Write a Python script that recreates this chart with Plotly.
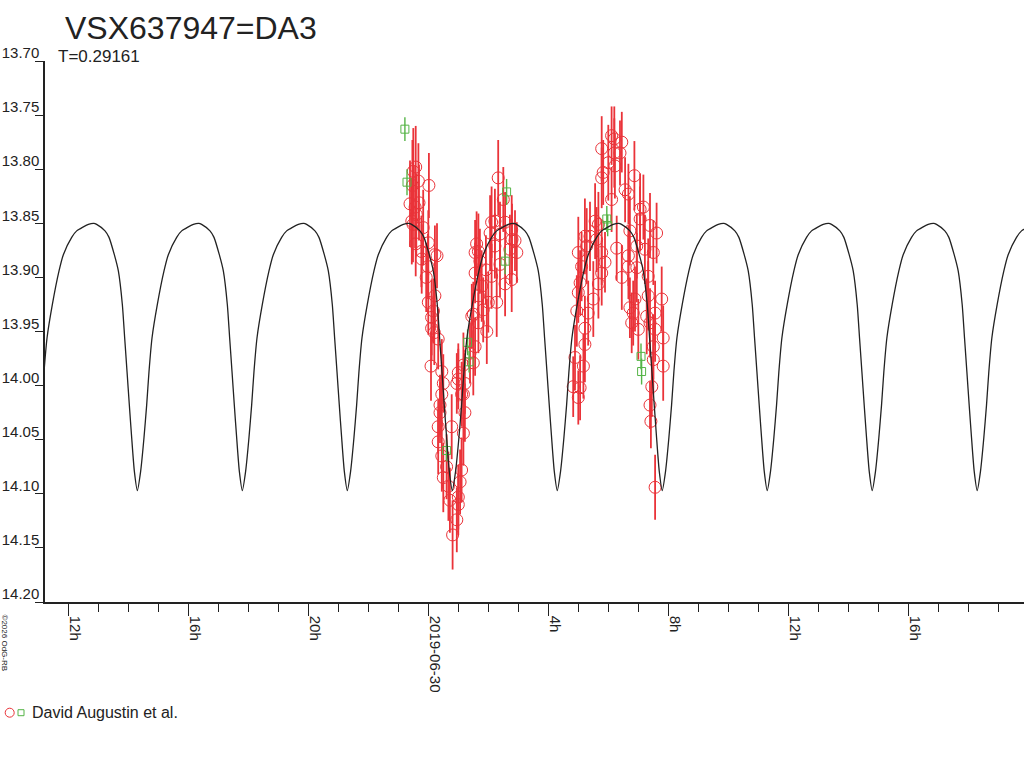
import plotly.graph_objects as go

# light curve of VSX637947=DA3, time in hours from 2019-06-30 00:00
period_days = 0.29161
first_min_h = -2.69          # a minimum of the model curve
tick_hours = [-12, -8, -4, 0, 4, 8, 12, 16]
tick_text = ["12h", "16h", "20h", "2019-06-30", "4h", "8h", "12h", "16h"]

# model profile around one minimum (hours from minimum, magnitude)
prof_dt = [-1.45, -1.356, -1.078, -0.944, -0.767, -0.633, -0.5, -0.422, -0.344, -0.267, -0.189, -0.1, 0.0,
           0.111, 0.222, 0.311, 0.389, 0.489, 0.667, 0.889, 1.033, 1.311, 1.478, 1.867]
prof_mag = [13.850, 13.851, 13.857, 13.863, 13.879, 13.894, 13.925, 13.956, 13.987, 14.018, 14.048, 14.079, 14.097,
            14.079, 14.048, 14.018, 13.987, 13.956, 13.925, 13.894, 13.879, 13.863, 13.857, 13.851]

# observations (red circles)
red_t = [-0.49, -0.41, -0.52, -0.32, 0.03, -0.60, -0.43, -0.30, -0.54, -0.16,
         -0.41, 0.01, 0.23, 0.30, -0.21, 1.57, 1.57, 0.23, 0.01, 0.12,
         0.12, 0.34, 0.10, 0.46, 0.51, 0.46, 0.40, 0.34, 0.79, 0.96,
         1.12, 1.23, 1.18, 0.34, 0.46, 1.12, 0.51, 0.73, 1.01, 0.96,
         0.82, 1.46, 1.40, 1.18, 1.01,
         2.34, 2.51, 2.12, 2.23, 2.57, 2.07, 2.40, 2.79, 2.90, 1.62,
         1.68, 2.23, 2.96, 2.73, 2.12, 2.79, 1.79, 1.68, 2.01, 2.29,
         1.84, 1.51, 1.68, 1.96, 1.57, 1.51, 1.01, 1.18,
         6.12, 6.21, 6.46, 5.79, 6.21, 6.40, 6.01, 5.84, 5.79, 6.23,
         6.88, 6.57, 6.68, 6.12, 7.18, 7.07, 5.57, 5.68, 5.40, 5.23,
         7.40, 7.62, 7.07, 6.73, 5.29, 5.01, 5.79, 6.29, 6.68, 6.96,
         7.23, 7.51, 5.90, 6.68, 6.96, 6.46, 7.34, 5.07, 5.68, 5.01,
         5.51, 6.90, 7.34, 7.79, 6.73, 4.96, 6.84, 7.29, 7.57, 5.23,
         7.01, 7.40, 7.84, 5.23, 7.51, 4.90, 7.84, 4.84, 5.07, 5.01,
         7.40, 7.43, 7.57,
         -0.39, -0.50, -0.22, 0.00, -0.06, 0.18, 0.21, 0.40, 0.62, 0.68,
         1.07, 1.01, 1.23, 1.73, 1.93, 2.40, 2.57, 2.80, 5.62, 5.12,
         5.79, 5.34, 6.79, 7.57, 7.51, 5.18, 7.46]
red_mag = [13.802, 13.798, 13.815, 13.811, 13.815, 13.832, 13.835, 13.831, 13.848, 13.854,
           13.869, 13.868, 13.879, 13.880, 13.883, 13.877, 13.896, 13.917, 13.923, 13.937,
           13.947, 13.957, 13.982, 13.987, 13.998, 14.008, 14.018, 14.038, 14.038, 13.998,
           14.008, 14.025, 14.044, 14.052, 14.065, 14.078, 14.085, 14.106, 14.110, 14.124,
           14.138, 13.936, 13.970, 13.981, 13.988,
           13.808, 13.828, 13.849, 13.848, 13.849, 13.859, 13.860, 13.856, 13.866, 13.869,
           13.876, 13.871, 13.877, 13.874, 13.899, 13.902, 13.908, 13.917, 13.923, 13.923,
           13.930, 13.934, 13.942, 13.950, 13.964, 13.979, 13.994, 14.008,
           13.769, 13.772, 13.775, 13.781, 13.785, 13.785, 13.794, 13.803, 13.808, 13.797,
           13.806, 13.819, 13.823, 13.828, 13.835, 13.837, 13.848, 13.851, 13.862, 13.862,
           13.852, 13.859, 13.846, 13.857, 13.871, 13.877, 13.877, 13.873, 13.880, 13.871,
           13.874, 13.877, 13.886, 13.890, 13.891, 13.900, 13.899, 13.905, 13.906, 13.914,
           13.920, 13.920, 13.917, 13.920, 13.928, 13.931, 13.933, 13.936, 13.933, 13.947,
           13.948, 13.942, 13.956, 13.962, 13.964, 13.974, 13.982, 14.001, 14.002, 14.011,
           14.018, 14.033, 14.094,
           13.842, 13.851, 13.876, 13.890, 13.900, 13.931, 13.951, 14.025, 14.075, 14.093,
           14.089, 14.103, 13.998, 13.885, 13.893, 13.888, 13.906, 13.865, 13.865, 13.890,
           13.896, 13.933, 13.942, 13.948, 13.976, 13.982, 14.001]
red_err = [0.040, 0.038, 0.042, 0.035, 0.030, 0.040, 0.038, 0.035, 0.040, 0.035,
           0.030, 0.030, 0.027, 0.030, 0.032, 0.030, 0.028, 0.032, 0.030, 0.035,
           0.030, 0.028, 0.032, 0.030, 0.027, 0.030, 0.028, 0.025, 0.030, 0.028,
           0.030, 0.027, 0.030, 0.030, 0.033, 0.030, 0.032, 0.030, 0.028, 0.030,
           0.032, 0.030, 0.028, 0.030, 0.027,
           0.035, 0.030, 0.033, 0.030, 0.028, 0.035, 0.030, 0.032, 0.028, 0.030,
           0.035, 0.030, 0.028, 0.032, 0.030, 0.030, 0.033, 0.030, 0.028, 0.032,
           0.030, 0.030, 0.028, 0.030, 0.027, 0.030, 0.028, 0.030,
           0.027, 0.030, 0.028, 0.030, 0.032, 0.030, 0.035, 0.030, 0.028, 0.030,
           0.032, 0.030, 0.028, 0.030, 0.030, 0.033, 0.035, 0.030, 0.032, 0.035,
           0.030, 0.028, 0.030, 0.032, 0.035, 0.033, 0.030, 0.030, 0.028, 0.030,
           0.032, 0.030, 0.028, 0.030, 0.032, 0.030, 0.035, 0.030, 0.032, 0.028,
           0.035, 0.030, 0.032, 0.030, 0.028, 0.033, 0.030, 0.035, 0.030, 0.030,
           0.028, 0.032, 0.030, 0.035, 0.030, 0.030, 0.032, 0.028, 0.030, 0.025,
           0.022, 0.025, 0.030,
           0.038, 0.035, 0.033, 0.030, 0.032, 0.030, 0.030, 0.028, 0.030, 0.032,
           0.030, 0.030, 0.028, 0.030, 0.032, 0.030, 0.030, 0.033, 0.030, 0.032,
           0.030, 0.030, 0.028, 0.030, 0.032, 0.030, 0.028]

# observations (green squares)
green_t = [-0.77, -0.70, 0.62, 1.32, 1.37, 2.62, 2.57, 5.96, 5.99, 7.10, 7.12]
green_mag = [13.763, 13.812, 14.060, 13.960, 13.978, 13.821, 13.885, 13.846, 13.852, 13.973, 13.987]
green_err = [0.011, 0.012, 0.010, 0.012, 0.010, 0.012, 0.012, 0.012, 0.010, 0.012, 0.012]

RED = "#ea3339"
GREEN = "#55b447"
INK = "#222222"
FONT = "Liberation Sans"
W, H = 1024, 768

# px -> paper helpers (plot area is x 45..1024, y 61..602)
def px(x):
    return (x - 45) / 979.0

def py(y):
    return (602 - y) / 541.0

half_p = period_days * 24 / 2
curve_t, curve_m = [], []
for k in range(-3, 8):
    t0 = first_min_h + k * half_p
    for dt, m in zip(prof_dt, prof_mag):
        curve_t.append(t0 + dt)
        curve_m.append(m)

fig = go.Figure()
fig.add_trace(go.Scatter(
    x=red_t, y=red_mag, mode="markers",
    marker=dict(symbol="circle-open", size=12, color=RED, line=dict(width=1, color=RED)),
    error_y=dict(type="data", array=red_err, color=RED, thickness=1.8, width=0),
    showlegend=False))
fig.add_trace(go.Scatter(
    x=green_t, y=green_mag, mode="markers",
    marker=dict(symbol="square-open", size=8, color=GREEN, line=dict(width=1, color=GREEN)),
    error_y=dict(type="data", array=green_err, color=GREEN, thickness=1.4, width=0),
    showlegend=False))
fig.add_trace(go.Scatter(
    x=curve_t, y=curve_m, mode="lines",
    line=dict(color=INK, width=1.3, shape="spline", smoothing=0.6),
    showlegend=False, hoverinfo="skip"))

fig.update_xaxes(
    range=[(45 - 428) / 30, (1024 - 428) / 30], automargin=False,
    tickmode="array", tickvals=tick_hours, ticktext=tick_text,
    ticks="outside", ticklen=12, tickcolor=INK, tickwidth=1,
    minor=dict(tickmode="linear", tick0=0, dtick=1, ticks="outside", ticklen=8, tickcolor=INK),
    tickangle=90, ticklabelshift=7, ticklabelstandoff=-3,
    tickfont=dict(family=FONT, size=15, color=INK),
    showline=True, linecolor=INK, linewidth=1.5,
    showgrid=False, zeroline=False)
fig.update_yaxes(
    range=[14.20, 13.70], automargin=False, tick0=13.70, dtick=0.05, tickformat=".2f",
    ticks="outside", ticklen=8, tickcolor=INK, tickwidth=1,
    ticklabelshift=8, ticklabelstandoff=-7,
    tickfont=dict(family=FONT, size=15, color=INK),
    showline=True, linecolor=INK, linewidth=1.5,
    showgrid=False, zeroline=False)

fig.update_layout(
    width=W, height=H,
    margin=dict(l=45, r=0, t=61, b=166, autoexpand=False),
    paper_bgcolor="white", plot_bgcolor="white",
    font=dict(family=FONT, color=INK),
    title=dict(text="VSX637947=DA3", font=dict(family=FONT, size=32, color=INK),
               xref="container", yref="container", x=65 / W, xanchor="left",
               y=1 - 28 / H, yanchor="middle"),
    annotations=[
        dict(text="T=0.29161", xref="paper", yref="paper", x=px(56), y=py(57),
             xanchor="left", yanchor="middle", showarrow=False,
             font=dict(family=FONT, size=17, color=INK)),
        dict(text="David Augustin et al.", xref="paper", yref="paper", x=px(30), y=py(712),
             xanchor="left", yanchor="middle", showarrow=False,
             font=dict(family=FONT, size=16, color=INK)),
        dict(text="©2026 OdG-RB", xref="paper", yref="paper", x=px(4.5), y=py(643),
             xanchor="center", yanchor="middle", showarrow=False, textangle=90,
             font=dict(family=FONT, size=8, color=INK)),
    ],
    shapes=[
        dict(type="circle", xref="paper", yref="paper", xsizemode="pixel", ysizemode="pixel",
             xanchor=px(9.7), yanchor=py(712.7), x0=-4.5, x1=4.5, y0=-4.5, y1=4.5,
             line=dict(color=RED, width=1)),
        dict(type="rect", xref="paper", yref="paper", xsizemode="pixel", ysizemode="pixel",
             xanchor=px(21), yanchor=py(712.7), x0=-3, x1=3, y0=-3, y1=3,
             line=dict(color=GREEN, width=1)),
    ],
)

# drop the browser's default 8px page margin so the figure fills the window exactly
fig.write_html("out.html", config={"displayModeBar": False},
               post_script="document.body.style.margin='0px';document.body.style.overflow='hidden';")
